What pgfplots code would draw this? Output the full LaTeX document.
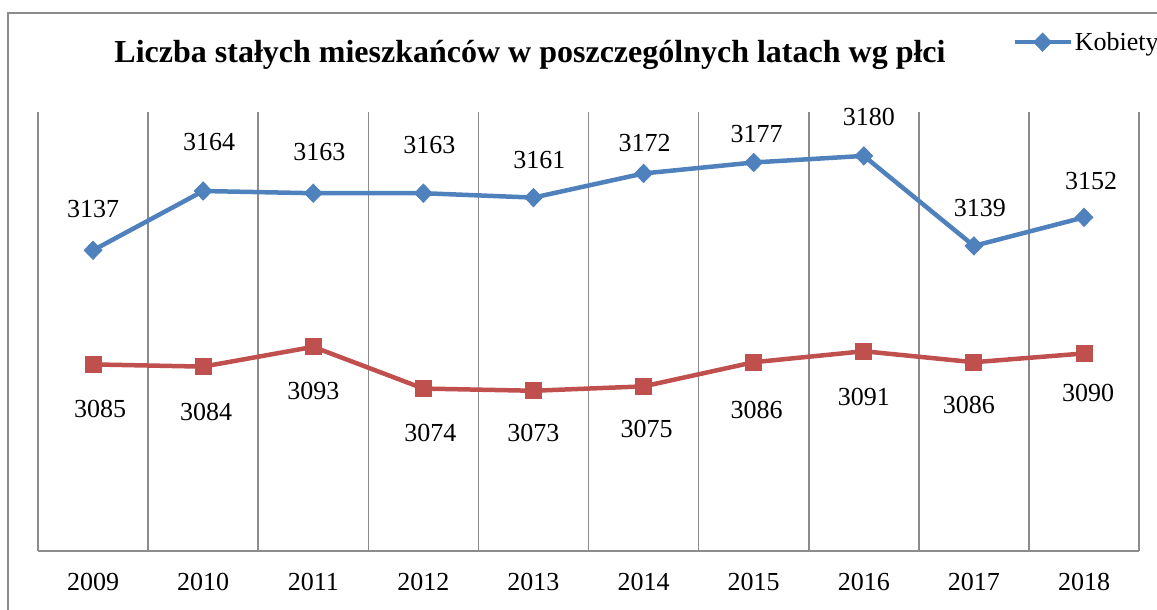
\documentclass[border=0pt]{standalone}
\usepackage{pgfplots}
\usepackage{pgfplotstable}
\pgfplotsset{compat=1.18}
\usepackage{fontspec}
\setmainfont{Liberation Serif}
\definecolor{kblue}{HTML}{4F81BD}
\definecolor{kred}{HTML}{C0504D}
\definecolor{fr}{HTML}{8C8C8C}
\pgfplotstableread{
x k kdx kdy m mdx mdy
0 3137 0 41 3085 7 -45
1 3164 6 49 3084 3 -45
2 3163 6 41 3093 0 -44
3 3163 6 48 3074 7 -44
4 3161 6 38 3073 0 -42
5 3172 1 30 3075 3 -43
6 3177 3 28 3086 3 -48
7 3180 5 39 3091 0 -46
8 3139 6 38 3086 -5 -43
9 3152 7 36 3090 4 -40
}\data
\begin{document}
\begin{tikzpicture}[x=1pt,y=1pt]
\path[use as bounding box] (0,0) rectangle (1157,610);
\clip (0,0) rectangle (1157,610);
\draw[fr, line width=1.6pt] (8,-20) rectangle (1180,597);
\node[font=\fontsize{32}{38}\selectfont\bfseries] at (530,555) {Liczba stałych mieszkańców w poszczególnych latach wg płci};
\begin{axis}[
  at={(38pt,59pt)}, anchor=south west, scale only axis,
  width=1101pt, height=439pt,
  xmin=-0.5, xmax=9.5, ymin=3000, ymax=3200,
  xtick={0,...,9},
  xticklabels={2009,2010,2011,2012,2013,2014,2015,2016,2017,2018},
  ytick=\empty,
  major tick length=0pt, minor tick length=0pt,
  minor xtick={-0.5,0.5,...,9.5},
  xminorgrids,
  minor grid style={fr, line width=1.6pt},
  axis line style={draw=none},
  tick label style={font=\fontsize{26}{30}\selectfont},
  xticklabel style={anchor=center, yshift=-31pt},
  clip=false,
  /pgf/number format/.cd, 1000 sep={}, assume math mode=true, /pgfplots/.cd,
  every node near coord/.append style={font=\fontsize{26}{30}\selectfont, anchor=center, black},
  legend style={at={(0.8847,1.159)}, anchor=west, draw=none, fill=none, inner sep=0pt,
     font=\fontsize{26}{30}\selectfont, nodes={inner sep=2pt}},
  legend image code/.code={\draw[mark repeat=2,mark phase=2,#1] plot coordinates {(0pt,0pt) (28pt,0pt) (56pt,0pt)};},
]
\draw[fr, line width=1.6pt] (axis cs:-0.5,3000) -- (axis cs:9.5,3000);
\addplot[kblue, line width=4.5pt, mark=diamond*, mark size=9pt, mark options={xscale=1.3, line width=1pt},
  visualization depends on={\thisrow{kdx} \as \ldx},
  visualization depends on={\thisrow{kdy} \as \ldy},
  nodes near coords, nodes near coords style={xshift=\ldx pt, yshift=\ldy pt}]
  table[x=x, y=k] {\data};
\addlegendentry{Kobiety}
\addplot[kred, line width=4.5pt, mark=square*, mark size=8pt, mark options={line width=1pt},
  visualization depends on={\thisrow{mdx} \as \ldx},
  visualization depends on={\thisrow{mdy} \as \ldy},
  nodes near coords, nodes near coords style={xshift=\ldx pt, yshift=\ldy pt}, forget plot]
  table[x=x, y=m] {\data};
\end{axis}
\end{tikzpicture}
\end{document}
